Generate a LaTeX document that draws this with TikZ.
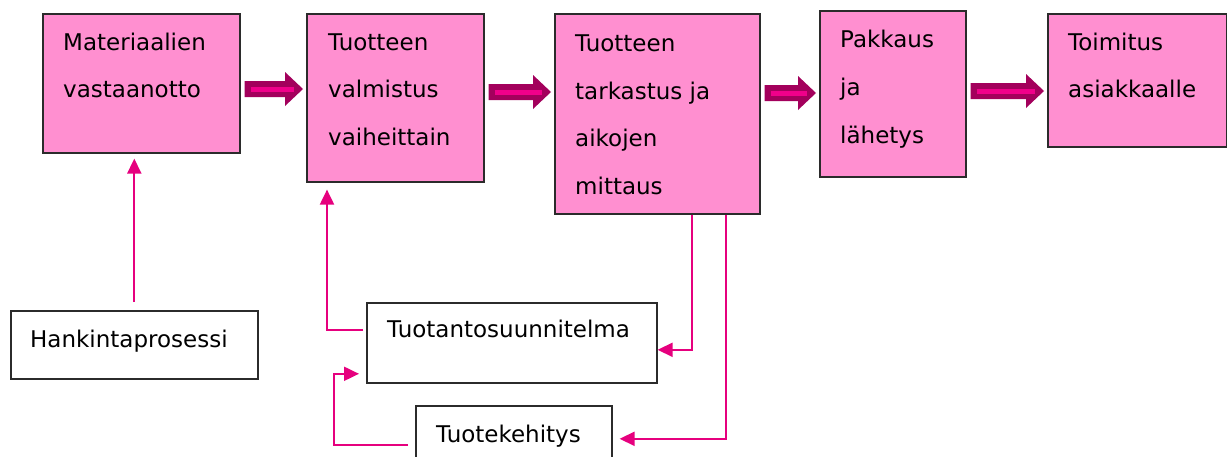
\documentclass[tikz,border=0pt]{standalone}
\usepackage{fontspec}
\setmainfont{DejaVu Sans}
\usetikzlibrary{arrows.meta}
\definecolor{boxpink}{HTML}{FF8FD0}
\definecolor{linkpink}{HTML}{E6007E}
\definecolor{fatdark}{HTML}{A3005C}
\definecolor{fatlight}{HTML}{F0008A}
\definecolor{edgegray}{HTML}{2B2B2B}

% fat arrow between two boxes at height #3
\newcommand{\fatarrow}[3]{%
  \path ([xshift=4pt]#1.east |- 0,#3) coordinate (fa)
        ([xshift=-3pt]#2.west |- 0,#3) coordinate (fb);
  \fill[fatdark] ([yshift=8pt]fa) -- ([shift={(-18pt,8pt)}]fb) -- ([shift={(-18pt,17pt)}]fb) -- (fb)
    -- ([shift={(-18pt,-17pt)}]fb) -- ([shift={(-18pt,-8pt)}]fb) -- ([yshift=-8pt]fa) -- cycle;
  \draw[fatlight, line width=5pt] ([xshift=6pt]fa) -- ([xshift=-9pt]fb);}

\begin{document}
\begin{tikzpicture}[x=1pt, y=-1pt,
	box/.style={draw=edgegray, line width=1.6pt, fill=boxpink, anchor=north west, inner sep=0pt},
	smallbox/.style={draw=edgegray, line width=1.6pt, fill=white, anchor=north west, inner sep=0pt},
	lbl/.style={anchor=base west, inner sep=0pt, font=\fontsize{23pt}{47.7pt}\selectfont},
	conn/.style={draw=linkpink, line width=2pt},
	tip/.style={-{Triangle[length=15pt,width=14pt]}}]
	\useasboundingbox[fill=white] (0,0) rectangle (1227,456);

	\node[box, minimum width=197pt, minimum height=139pt] (b1) at (42,13) {};
	\node[box, minimum width=177pt, minimum height=168pt] (b2) at (306,13) {};
	\node[box, minimum width=205pt, minimum height=200pt] (b3) at (554,13) {};
	\node[box, minimum width=146pt, minimum height=166pt] (b4) at (819,10) {};
	\node[box, minimum width=179pt, minimum height=133pt] (b5) at (1047,13) {};

	\node[smallbox, minimum width=247pt, minimum height=68pt] (hank) at (10,310) {};
	\node[smallbox, minimum width=290pt, minimum height=80pt] (plan) at (366,302) {};
	\node[smallbox, minimum width=196pt, minimum height=70pt] (kehi) at (415,405) {};

	\node[lbl] at ([shift={(21pt,-37pt)}]b1.north west) {\begin{tabular}[t]{@{}l@{}}Materiaalien\\vastaanotto\end{tabular}};
	\node[lbl] at ([shift={(22pt,-37pt)}]b2.north west) {\begin{tabular}[t]{@{}l@{}}Tuotteen\\valmistus\\vaiheittain\end{tabular}};
	\node[lbl] at ([shift={(21pt,-38.5pt)}]b3.north west) {\begin{tabular}[t]{@{}l@{}}Tuotteen\\tarkastus ja\\aikojen\\mittaus\end{tabular}};
	\node[lbl] at ([shift={(21pt,-37.7pt)}]b4.north west) {\begin{tabular}[t]{@{}l@{}}Pakkaus\\ja\\lähetys\end{tabular}};
	\node[lbl] at ([shift={(21pt,-37pt)}]b5.north west) {\begin{tabular}[t]{@{}l@{}}Toimitus\\asiakkaalle\end{tabular}};
	\node[lbl] at ([shift={(20pt,-37pt)}]hank.north west) {Hankintaprosessi};
	\node[lbl] at ([shift={(21pt,-35pt)}]plan.north west) {Tuotantosuunnitelma};
	\node[lbl] at ([shift={(21pt,-37pt)}]kehi.north west) {Tuotekehitys};

	\fatarrow{b1}{b2}{89}
	\fatarrow{b2}{b3}{92}
	\fatarrow{b3}{b4}{93}
	\fatarrow{b4}{b5}{91}

	\draw[conn, tip] ([yshift=8pt]hank.north) -- ([yshift=-5pt]hank.north |- b1.south);
	\draw[conn, tip] ([shift={(-3pt,13pt)}]plan.west) -| ([shift={(21pt,-7pt)}]b2.south west);
	\draw[conn, tip] ([xshift=138pt]b3.south west) |- ([yshift=-7pt]plan.east);
	\draw[conn, tip] ([xshift=172pt]b3.south west) |- ([shift={(7pt,2pt)}]kehi.east);
	\draw[conn, tip] ([shift={(-7pt,-4pt)}]kehi.west) -- ++(-74pt,0pt) |- ([shift={(-7pt,-31pt)}]plan.west);
\end{tikzpicture}
\end{document}
